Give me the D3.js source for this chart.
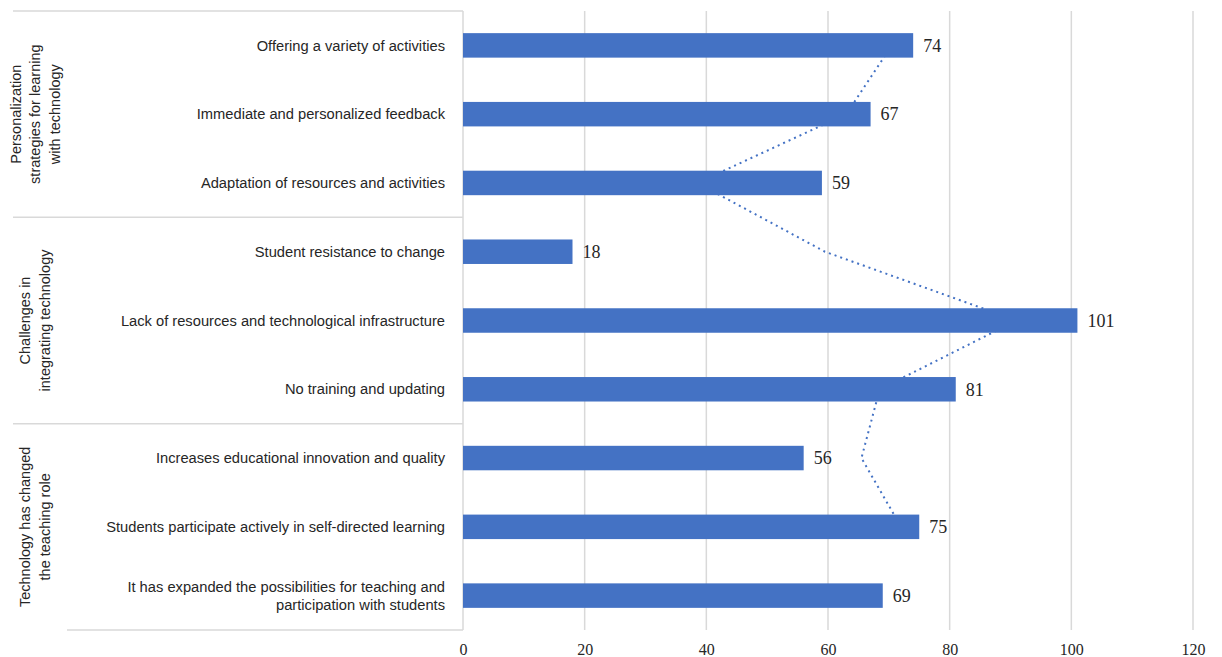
<!DOCTYPE html>
<html>
<head>
<meta charset="utf-8">
<script src="https://cdn.jsdelivr.net/npm/d3@7"></script>
<style>
  body { margin: 0; background: #fff; }
  svg { display: block; }
</style>
</head>
<body>
<svg id="chart"></svg>
<script>
const width = 1222;
const height = 657;

// categories top to bottom
const categories = [
  "Offering a variety of activities",
  "Immediate and personalized feedback",
  "Adaptation of resources and activities",
  "Student resistance to change",
  "Lack of resources and technological infrastructure",
  "No training and updating",
  "Increases educational innovation and quality",
  "Students participate actively in self-directed learning",
  "It has expanded the possibilities for teaching and participation with students"
];
const values = [74, 67, 59, 18, 101, 81, 56, 75, 69];

// dotted trendline (2 per. moving avg), same order
const trendValues = [70.5, 63, 38.5, 59.5, 91, 68.5, 65.5, 72, null];

const groups = [
  "Personalization strategies for learning with technology",
  "Challenges in integrating technology",
  "Technology has changed the teaching role"
];
const groupLines = [
  ["Personalization", "strategies for learning", "with technology"],
  ["Challenges in", "integrating technology"],
  ["Technology has changed", "the teaching role"]
];
const groupSize = [3, 3, 3];

const xTicks = [0, 20, 40, 60, 80, 100, 120];

const barColor = "#4472C4";
const gridColor = "#d9d9d9";

const plot = { left: 463, right: 1193, top: 11, bottom: 630 };

const svg = d3.select("#chart")
  .attr("width", width)
  .attr("height", height);

const x = d3.scaleLinear()
  .domain([0, 120])
  .range([plot.left, plot.right]);

const y = d3.scaleBand()
  .domain(categories)
  .range([plot.top, plot.bottom])
  .paddingInner(0.644)
  .paddingOuter(0.322);

//gridlines
svg.append("g")
  .selectAll("line")
  .data(xTicks)
  .enter()
  .append("line")
  .attr("x1", d => x(d))
  .attr("x2", d => x(d))
  .attr("y1", plot.top)
  .attr("y2", plot.bottom)
  .attr("stroke", gridColor)
  .attr("stroke-width", 1.5);

//group boxes on the left
let start = 0;
const bounds = [0];
groupSize.forEach(n => { start += n; bounds.push(start); });
const step = y.step();

svg.append("g")
  .selectAll("line")
  .data(bounds)
  .enter()
  .append("line")
  .attr("x1", (d, i) => i === bounds.length - 1 ? 67 : 13)
  .attr("x2", plot.left)
  .attr("y1", d => plot.top + d * step)
  .attr("y2", d => plot.top + d * step)
  .attr("stroke", gridColor)
  .attr("stroke-width", 1.5);

//trendline under the bars
const trendData = categories.map((c, i) => ({ c: c, v: trendValues[i] }))
  .filter(d => d.v != null);

const line = d3.line()
  .x(d => x(d.v))
  .y(d => y(d.c) + y.bandwidth() / 2);

svg.append("path")
  .datum(trendData)
  .attr("fill", "none")
  .attr("stroke", barColor)
  .attr("stroke-width", 2)
  .attr("stroke-dasharray", "2,4")
  .attr("d", line);

//bars
svg.selectAll(".bar")
  .data(values)
  .enter()
  .append("rect")
  .attr("class", "bar")
  .attr("x", x(0))
  .attr("y", (d, i) => y(categories[i]))
  .attr("width", d => x(d) - x(0))
  .attr("height", y.bandwidth())
  .attr("fill", barColor);

//data labels
svg.selectAll(".val")
  .data(values)
  .enter()
  .append("text")
  .attr("class", "val")
  .attr("x", d => x(d) + 10)
  .attr("y", (d, i) => y(categories[i]) + y.bandwidth() / 2)
  .attr("dy", "0.35em")
  .attr("font-family", "'Liberation Serif', 'Times New Roman', serif")
  .attr("font-size", 18)
  .attr("fill", "#262626")
  .text(d => d);

//category labels
const catFont = "'Liberation Sans', Arial, sans-serif";
categories.forEach((c, i) => {
  const cy = y(c) + y.bandwidth() / 2;
  const t = svg.append("text")
    .attr("x", 445)
    .attr("text-anchor", "end")
    .attr("font-family", catFont)
    .attr("font-size", 14.7)
    .attr("fill", "#262626");
  if (c.length > 60) {
    const lines = ["It has expanded the possibilities for teaching and", "participation with students"];
    lines.forEach((l, j) => {
      t.append("tspan")
        .attr("x", 445)
        .attr("y", cy + (j - 0.5) * 18)
        .attr("dy", "0.35em")
        .text(l);
    });
  } else {
    t.attr("y", cy).attr("dy", "0.35em").text(c);
  }
});

//group labels (rotated)
groupLines.forEach((lines, g) => {
  const cy = plot.top + (bounds[g] + bounds[g + 1]) / 2 * step;
  const cx = 35;
  const t = svg.append("text")
    .attr("transform", `translate(${cx},${cy}) rotate(-90)`)
    .attr("text-anchor", "middle")
    .attr("font-family", catFont)
    .attr("font-size", 14.5)
    .attr("fill", "#262626");
  lines.forEach((l, j) => {
    t.append("tspan")
      .attr("x", 0)
      .attr("y", (j - (lines.length - 1) / 2) * 19.5)
      .attr("dy", "0.35em")
      .text(l);
  });
});

//x axis
const xAxis = svg.append("g")
  .attr("transform", `translate(0,${plot.bottom})`)
  .call(d3.axisBottom(x).tickValues(xTicks).tickSize(0).tickPadding(14));
xAxis.select(".domain").remove();
xAxis.selectAll("text")
  .attr("font-family", "'Liberation Serif', 'Times New Roman', serif")
  .attr("font-size", 16)
  .attr("fill", "#262626");
</script>
</body>
</html>
